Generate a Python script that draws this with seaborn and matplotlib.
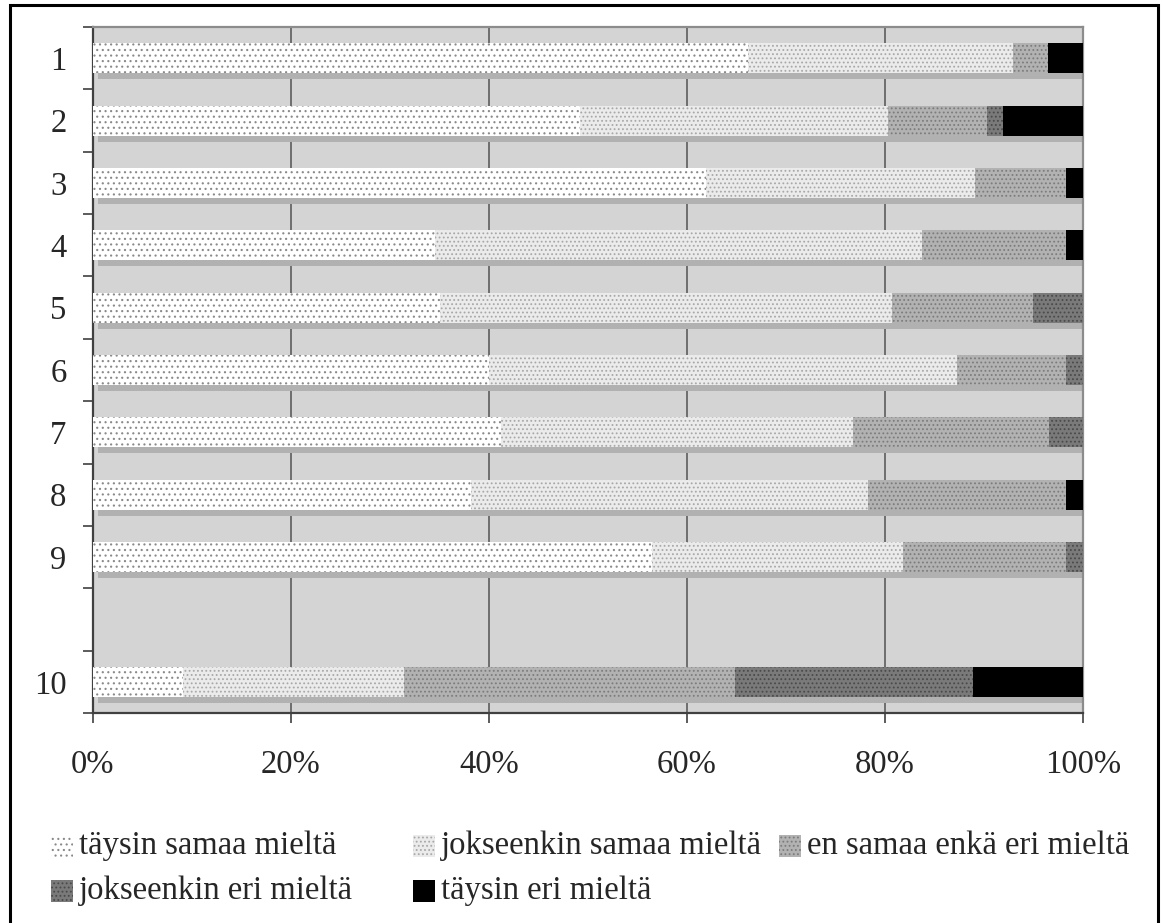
import numpy as np
import pandas as pd
import matplotlib
matplotlib.use("Agg")
import matplotlib.pyplot as plt
from matplotlib.patches import Rectangle
import seaborn as sns

# Statements (rows) and the share of answers in each response class, %
statements = ["1", "2", "3", "4", "5", "6", "7", "8", "9", "10"]
taysin_samaa = [66.2, 49.2, 61.9, 34.5, 35.1, 40.0, 41.2, 38.2, 56.5, 9.1]
jokseenkin_samaa = [26.7, 31.1, 27.2, 49.2, 45.6, 47.3, 35.6, 40.1, 25.3, 22.3]
ei_samaa_ei_eri = [3.6, 10.0, 9.2, 14.6, 14.2, 11.0, 19.8, 20.0, 16.5, 33.4]
jokseenkin_eri = [0.0, 1.6, 0.0, 0.0, 5.1, 1.7, 3.4, 0.0, 1.7, 24.1]
taysin_eri = [3.5, 8.1, 1.7, 1.7, 0.0, 0.0, 0.0, 1.7, 0.0, 11.1]

series_names = ["täysin samaa mieltä", "jokseenkin samaa mieltä",
                "en samaa enkä eri mieltä", "jokseenkin eri mieltä",
                "täysin eri mieltä"]
x_ticks = [0, 20, 40, 60, 80, 100]
x_tick_labels = ["0%", "20%", "40%", "60%", "80%", "100%"]

# Row order on the axis, with an empty spacer row before the last statement
row_order = statements[:9] + [" "] + statements[9:]

# Fill colour, hatch and hatch colour for each response class
styles = [
    ("#ffffff", "...", "#8a8a8a"),
    ("#ebebeb", "....", "#a8a8a8"),
    ("#b2b2b2", "....", "#7c7c7c"),
    ("#7a7a7a", "....", "#4a4a4a"),
    ("#000000", "", "#000000"),
]

sns.set_style("white")
plt.rcParams["font.family"] = ["Liberation Serif", "DejaVu Serif"]
plt.rcParams["hatch.linewidth"] = 0.8
FS = 23.5

W, H = 1162, 923
fig = plt.figure(figsize=(W / 100, H / 100), dpi=100)
fig.patch.set_facecolor("white")
ax = fig.add_axes([93 / W, 1 - 713 / H, 990 / W, 686 / H])
ax.set_facecolor("#d4d4d4")

series = [taysin_samaa, jokseenkin_samaa, ei_samaa_ei_eri, jokseenkin_eri, taysin_eri]
df = pd.DataFrame({name: vals for name, vals in zip(series_names, series)})
df["kohta"] = statements
cum = df[series_names].cumsum(axis=1)

bar_h = 0.48

# Drop shadow under every bar
pos = np.array([row_order.index(s) for s in statements], dtype=float)
ax.barh(pos + 0.097, 99.5, left=0.5, height=bar_h, color="#b1b1b1",
        linewidth=0, zorder=2)

# Stacked bars: draw cumulative totals from the longest down
for k in range(len(series_names) - 1, -1, -1):
    face, hatch, hcol = styles[k]
    n_before = len(ax.patches)
    sns.barplot(x=cum[series_names[k]], y=df["kohta"], order=row_order,
                orient="h", color=face, saturation=1, width=bar_h, ax=ax)
    for p in ax.patches[n_before:]:
        p.set_facecolor(face)
        p.set_edgecolor(hcol)
        p.set_hatch(hatch)
        p.set_linewidth(0)
        p.set_zorder(3)

ax.set_xlim(0, 100)
ax.set_ylim(len(row_order) - 0.5, -0.5)
ax.set_xlabel("")
ax.set_ylabel("")

# Vertical gridlines
ax.set_xticks(x_ticks)
ax.set_xticklabels(x_tick_labels, fontsize=FS)
ax.xaxis.grid(True, color="#5c5c5c", linewidth=1.2, zorder=1)
ax.set_axisbelow(True)

# Category labels without tick marks; tick marks sit between rows
ax.set_yticks(range(len(row_order)))
ax.set_yticklabels(row_order, fontsize=FS)
ax.tick_params(axis="y", which="major", length=0, pad=19)
ax.set_yticks(np.arange(-0.5, len(row_order), 1.0), minor=True)
ax.tick_params(axis="y", which="minor", left=True, length=7.5, width=1.2,
               color="#404040", direction="out")
ax.tick_params(axis="x", which="major", bottom=True, length=7.5, width=1.2,
               color="#404040", direction="out", pad=19)

for side in ["left", "bottom"]:
    ax.spines[side].set_color("#404040")
    ax.spines[side].set_linewidth(1.6)
for side in ["top", "right"]:
    ax.spines[side].set_color("#8c8c8c")
    ax.spines[side].set_linewidth(1.6)

# Legend drawn in figure pixel coordinates
legend_slots = [(51, 846), (413, 846), (779, 846), (51, 891), (413, 891)]
msize = 22
for (lx, ly), name, (face, hatch, hcol) in zip(legend_slots, series_names, styles):
    fig.add_artist(Rectangle((lx / W, 1 - (ly + msize / 2) / H), msize / W, msize / H,
                             transform=fig.transFigure, facecolor=face,
                             edgecolor=hcol, hatch=hatch, linewidth=0))
    fig.text((lx + msize + 6) / W, 1 - ly / H, name, fontsize=FS,
             ha="left", va="center")

# Outer frame
fig.add_artist(Rectangle((10 / W, -0.01), 1148 / W, 1.01 - 5 / H,
                         transform=fig.transFigure, fill=False,
                         edgecolor="black", linewidth=2.2))

fig.savefig("out.png", dpi=100)
